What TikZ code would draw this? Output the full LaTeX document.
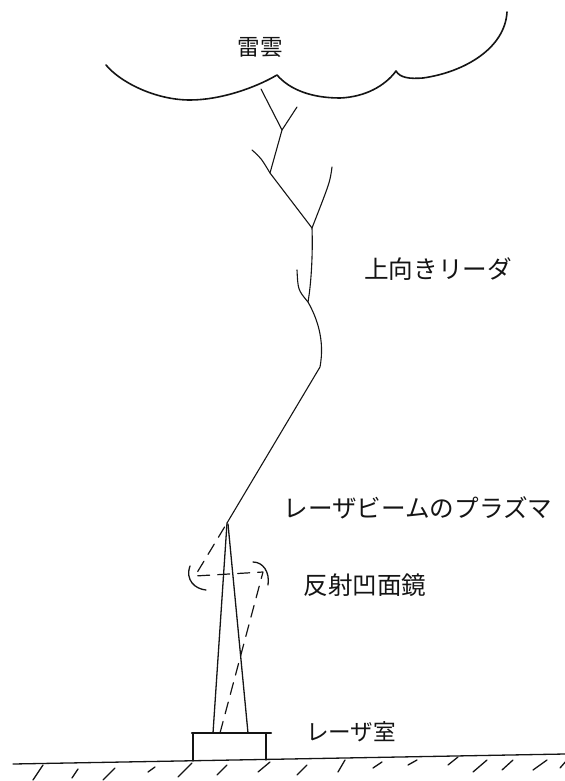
\documentclass[tikz,border=0pt]{standalone}
\usepackage{fontspec}
\newfontfamily\jpfont{Noto Sans CJK JP}
\usepackage{tikz}
\definecolor{SketchInk}{HTML}{141414}

\begin{document}
\begin{tikzpicture}[x=0.5pt,y=-0.5pt,line join=round,line cap=round,
  cloudline/.style={SketchInk,line width=0.8pt},
  leader/.style={SketchInk,line width=0.55pt},
  beam/.style={SketchInk,line width=0.65pt},
  ray/.style={SketchInk,line width=0.6pt,dash pattern=on 6pt off 4pt},
  tag/.style={font=\jpfont\fontsize{12.3}{14}\selectfont,text=SketchInk,inner sep=0pt}]
  \useasboundingbox (0,0) rectangle (565,781);
  % thundercloud base
  \draw[cloudline] (106,65) .. controls (120,82) and (155,100) .. (190,100)
    .. controls (220,100) and (255,88) .. (277,75)
    .. controls (290,90) and (312,98) .. (340,98)
    .. controls (365,97) and (385,86) .. (396,71)
    .. controls (400,78) and (410,79) .. (423,78)
    .. controls (465,72) and (505,48) .. (507,12);
  \node[tag,font=\jpfont\fontsize{11.3}{13}\selectfont] (cloudtext) at (260,47) {雷雲};
  % upward leader
  \coordinate (top) at (261,89);
  \coordinate (j1) at (282,130);
  \coordinate (j2) at (270,173);
  \coordinate (j3) at (312,228);
  \coordinate (j4) at (308,302);
  \coordinate (bend) at (320,367);
  \coordinate (focus) at (227,523);
  \coordinate (b1) at (297,107);
  \coordinate (b2) at (252,150);
  \coordinate (b3) at (332,167);
  \coordinate (b4) at (297,270);
  \draw[leader] (top) -- (j1) -- (j2) -- (j3)
    .. controls (313,255) and (311,285) .. (j4)
    .. controls (317,318) and (325,340) .. (bend) -- (focus);
  \draw[leader] (b1) -- (j1);
  \draw[leader] (b2) .. controls (261,158) .. (j2);
  \draw[leader] (b3) .. controls (330,182) .. (j3);
  \draw[leader] (b4) .. controls (298,290) .. (j4);
  \node[tag] (leadertext) at (438,269) {上向きリーダ};
  \node[tag] (plasmatext) at (418,508) {レーザビームのプラズマ};
  % laser beam and concave mirror
  \coordinate (beamL) at (213,733);
  \coordinate (beamR) at (248,733);
  \coordinate (laser) at (220,733);
  \coordinate (mirR) at (263,572);
  \coordinate (mirL) at (195,576);
  \draw[beam] (focus) -- (beamL);
  \draw[beam] (228,524) -- (beamR);
  \draw[ray] (laser) -- (mirR) -- (mirL) -- (focus);
  \draw[beam] (190,566) .. controls (185,580) and (195,589) .. (206,590);
  \draw[beam] (253,562) .. controls (263,562) and (270,572) .. (268,585);
  \node[tag] (mirrortext) at (365,585) {反射凹面鏡};
  % laser room and ground
  \draw[beam] (193,761) -- (193,733) (266,733) -- (266,760);
  \draw[SketchInk,line width=1.1pt] (192,733) -- (271,733);
  \node[tag,font=\jpfont\fontsize{11.3}{13}\selectfont] (roomtext) at (351,732) {レーザ室};
  \draw[beam] (13,764) -- (565,754);
  \foreach \x/\y/\u/\v in {33/780/43/765, 72/778/78/769, 103/780/115/768,
      148/772/155/767, 178/777/192/763, 217/775/227/765, 258/772/270/762,
      297/775/307/765, 338/772/345/760, 373/768/382/762, 408/765/417/760,
      448/765/458/757, 473/772/487/760, 502/770/513/760, 533/770/547/760,
      560/768/567/760}
    \draw[beam] (\x,\y) -- (\u,\v);
\end{tikzpicture}
\end{document}
